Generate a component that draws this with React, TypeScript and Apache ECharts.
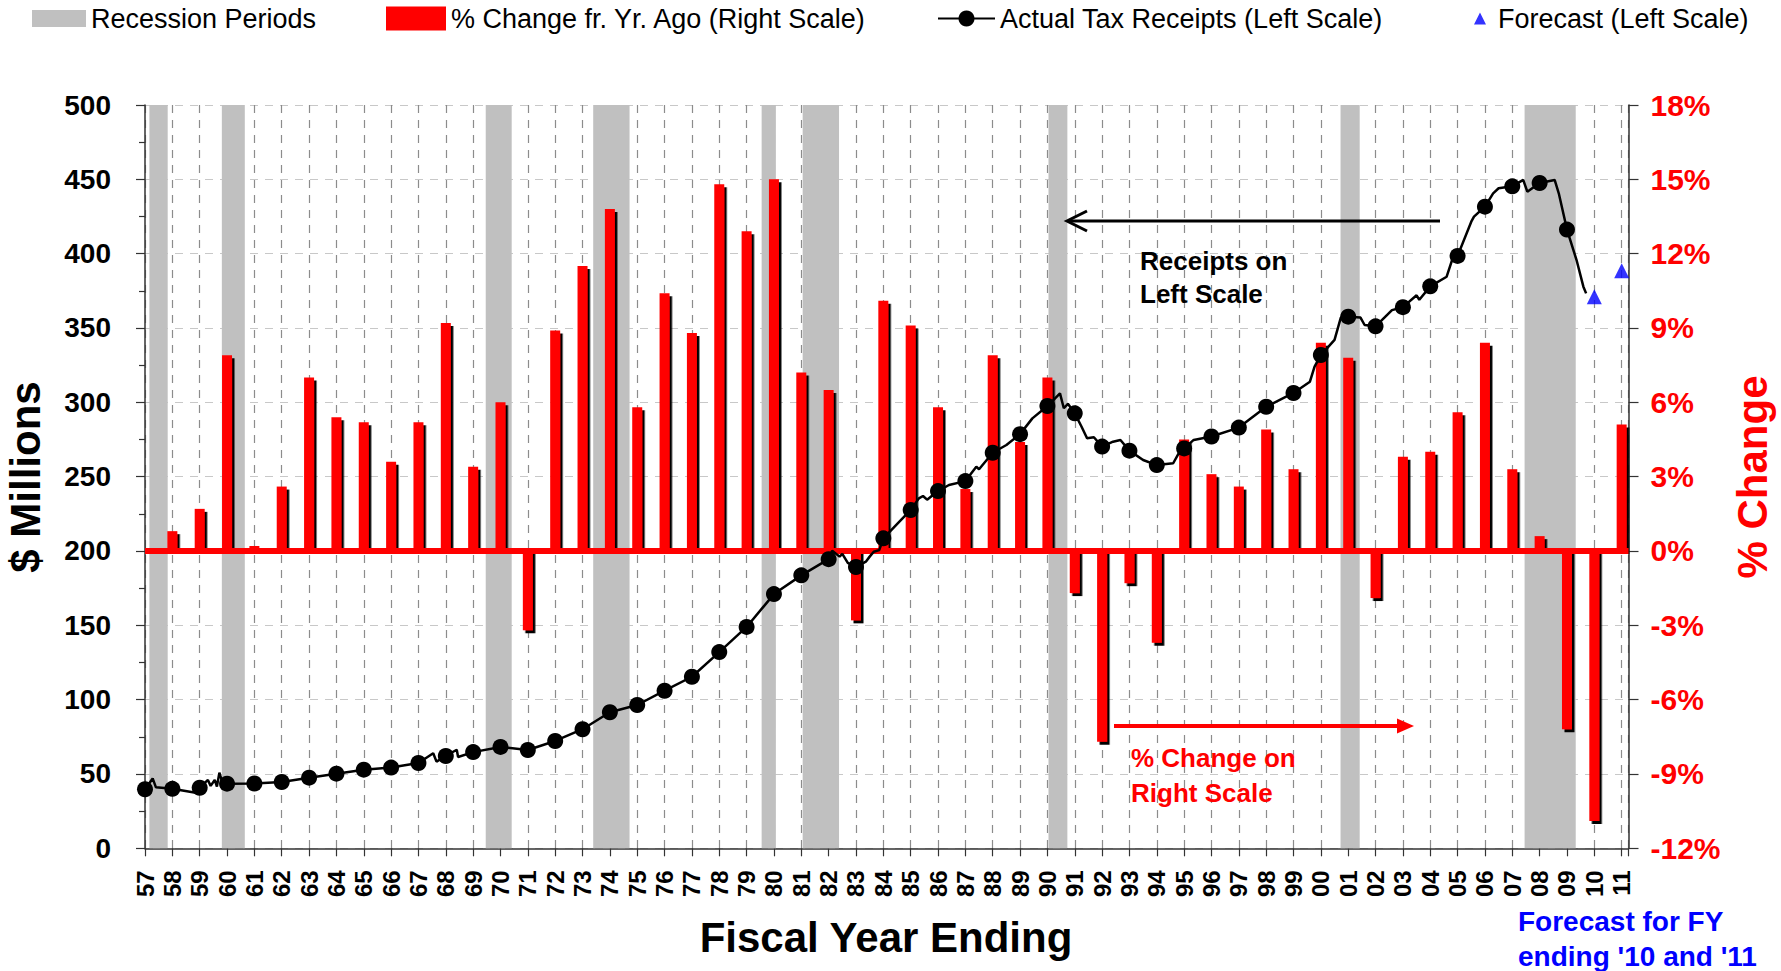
import React, { useEffect, useRef } from "react";
import * as echarts from "echarts";

// Fiscal years (x positions)
const years = [
  1957, 1958, 1959, 1960, 1961, 1962, 1963, 1964, 1965, 1966, 1967, 1968, 1969,
  1970, 1971, 1972, 1973, 1974, 1975, 1976, 1977, 1978, 1979, 1980, 1981, 1982,
  1983, 1984, 1985, 1986, 1987, 1988, 1989, 1990, 1991, 1992, 1993, 1994, 1995,
  1996, 1997, 1998, 1999, 2000, 2001, 2002, 2003, 2004, 2005, 2006, 2007, 2008,
  2009, 2010, 2011,
];

// % change from year ago (right scale), one per year above
const pctChange: (number | null)[] = [
  null, 0.8, 1.7, 7.9, 0.2, 2.6, 7.0, 5.4, 5.2, 3.6, 5.2, 9.2, 3.4,
  6.0, -3.2, 8.9, 11.5, 13.8, 5.8, 10.4, 8.8, 14.8, 12.9, 15.0, 7.2, 6.5,
  -2.8, 10.1, 9.1, 5.8, 2.5, 7.9, 4.4, 7.0, -1.7, -7.7, -1.3, -3.7, 4.5,
  3.1, 2.6, 4.9, 3.3, 8.4, 7.8, -1.9, 3.8, 4.0, 5.6, 8.4, 3.3, 0.6,
  -7.2, -10.9, 5.1,
];

// Actual tax receipts at fiscal year end, 1957..2009 ($ millions)
const receiptsAnnual = [
  39.7, 40, 40.7, 43.5, 43.6, 44.6, 47.5, 50.2, 52.9, 54.3, 57.4, 62.1, 64.7,
  68.2, 66.1, 72.2, 80.1, 91.5, 96.4, 106, 115.4, 132, 148.9, 171, 183.6, 194.5,
  189.2, 208.5, 227.6, 240.3, 247, 266.1, 278.6, 297.5, 292.6, 270.2, 267.5, 257.8, 269,
  277, 283, 297, 306.3, 331.8, 357.6, 351.1, 364, 378, 398.5, 431.6, 445.3, 447.5,
  416.2,
];

// Readings of the receipts line between fiscal year ends [year, $ millions]
const receiptsBetween: [number, number][] = [
  [1957.28, 47], [1957.4, 41], [1958.8, 37.5], [1959.3, 46], [1959.4, 42],
  [1959.55, 46], [1959.63, 41.5], [1959.72, 50.9], [1959.8, 46],
  [1967.54, 63.9], [1967.66, 58.3], [1968.4, 66.3], [1968.45, 61.4],
  [1982.13, 200.2], [1982.4, 196.2], [1982.5, 198], [1982.7, 192],
  [1983.36, 192.8], [1983.5, 196.2], [1983.65, 199.5], [1983.85, 200.6],
  [1985.3, 235.4], [1985.45, 237], [1985.6, 234.5], [1986.4, 244.4],
  [1987.4, 256.7], [1987.5, 255], [1988.5, 271.3], [1989.45, 289.2],
  [1990.46, 306], [1990.6, 296], [1990.75, 299],
  [1991.25, 283.6], [1991.45, 275.8], [1991.7, 276.5],
  [1992.4, 273.5], [1992.67, 274.7], [1993.5, 261.2],
  [1994.6, 259], [1994.8, 265.7], [1995.35, 274.7],
  [1999.6, 313.9], [1999.77, 324], [2000.5, 342], [2000.73, 357],
  [2001.45, 357], [2001.6, 352], [2002.6, 362], [2003.5, 372], [2003.6, 369],
  [2004.6, 384.5], [2004.84, 398], [2005.5, 421.5], [2005.6, 424.9],
  [2006.3, 440.6], [2006.5, 444], [2007.4, 449.6], [2007.55, 441.7],
  [2008.55, 449.6], [2008.7, 440.6],
  [2009.35, 395.7], [2009.6, 377.8], [2009.7, 373.3],
];

// Forecast receipts for FY ending 2010 and 2011
const forecastYears = [2010, 2011];
const forecastValues = [371, 388.5];

// Recession periods [start, end] in fractional fiscal years
const recessions: [number, number][] = [
  [1957.16, 1957.83], [1959.81, 1960.65], [1969.46, 1970.41], [1973.39, 1974.72],
  [1979.55, 1980.07], [1981.05, 1982.38], [1990.04, 1990.73], [2000.72, 2001.42],
  [2007.45, 2009.32],
];

const leftTicks = { min: 0, max: 500, interval: 50 };
const rightTicks = { min: -12, max: 18, interval: 3 };

const FONT = "'Liberation Sans', Arial, Helvetica, sans-serif";

export default function App() {
  const ref = useRef<HTMLDivElement>(null);

  useEffect(() => {
    if (!ref.current) return;
    const chart = echarts.init(ref.current, undefined, { renderer: "svg" });

    const barData = years
      .map((y, i) => [y, pctChange[i]] as [number, number | null])
      .filter((d) => d[1] !== null);

    const lineData: any[] = [];
    receiptsAnnual.forEach((v, i) => lineData.push({ value: [years[i], v] }));
    receiptsBetween.forEach((p) => lineData.push({ value: p, symbol: "none" }));
    lineData.sort((a, b) => a.value[0] - b.value[0]);

    const forecastData = forecastYears.map((y, i) => [y, forecastValues[i]]);

    const legendText = { fontSize: 27, color: "#000", fontFamily: FONT };
    const legendBase = { padding: 0, selectedMode: false, textStyle: legendText };

    const option: any = {
      animation: false,
      backgroundColor: "#fff",
      textStyle: { fontFamily: FONT },
      grid: { left: 145, right: 152.5, top: 105, bottom: 122.7, containLabel: false },
      legend: [
        {
          ...legendBase,
          data: ["Recession Periods"], left: 32, top: 5, icon: "rect",
          itemWidth: 54, itemHeight: 17,
        },
        {
          ...legendBase,
          data: ["% Change fr. Yr. Ago (Right Scale)"], left: 386, top: 5, icon: "rect",
          itemWidth: 60, itemHeight: 24,
          itemStyle: { shadowColor: "rgba(0,0,0,0)", shadowBlur: 0, shadowOffsetX: 0, shadowOffsetY: 0 },
        },
        {
          ...legendBase,
          data: ["Actual Tax Receipts (Left Scale)"], left: 937, top: 5,
          itemWidth: 57, itemHeight: 20,
        },
        {
          ...legendBase,
          data: ["Forecast (Left Scale)"], left: 1458, top: 5,
          icon: "path://M0,6L0.01,6M35,6L35.01,6M16,12L22,0L28,12Z",
          itemWidth: 35, itemHeight: 12,
        },
      ],
      xAxis: {
        type: "value",
        min: 1957,
        max: 2011.25,
        interval: 1,
        axisLine: { show: true, onZero: false, lineStyle: { color: "#333", width: 1.5 } },
        axisTick: { show: true, length: 8, lineStyle: { color: "#333", width: 1.2 } },
        axisLabel: {
          rotate: 90,
          margin: 22,
          fontSize: 24,
          fontWeight: "bold",
          color: "#000",
          fontFamily: FONT,
          showMinLabel: true,
          showMaxLabel: true,
          formatter: (v: number) =>
            Math.abs(v - Math.round(v)) < 1e-6 ? String(Math.round(v)).slice(2) : "",
        },
        splitLine: { show: true, lineStyle: { color: "#8c8c8c", width: 1.2, type: [8, 7] } },
      },
      yAxis: [
        {
          type: "value",
          ...leftTicks,
          position: "left",
          axisLine: { show: true, lineStyle: { color: "#333", width: 1.5 } },
          axisTick: { show: true, length: 9, lineStyle: { color: "#333", width: 1.2 } },
          minorTick: { show: true, splitNumber: 2, length: 6, lineStyle: { color: "#333", width: 1.2 } },
          axisLabel: {
            margin: 34, fontSize: 28, fontWeight: "bold", color: "#000", fontFamily: FONT,
          },
          splitLine: { show: true, lineStyle: { color: "#c8c8c8", width: 1.2, type: [8, 7] } },
        },
        {
          type: "value",
          ...rightTicks,
          position: "right",
          axisLine: { show: true, lineStyle: { color: "#333", width: 1.5 } },
          axisTick: { show: true, length: 10, lineStyle: { color: "#333", width: 1.2 } },
          axisLabel: {
            margin: 22, fontSize: 30, fontWeight: "bold", color: "#ff0000", fontFamily: FONT,
            formatter: "{value}%",
          },
          splitLine: { show: false },
        },
      ],
      series: [
        {
          name: "Recession Periods",
          type: "line",
          data: [],
          color: "#c0c0c0",
          xAxisIndex: 0,
          yAxisIndex: 0,
          markArea: {
            silent: true,
            itemStyle: { color: "#c0c0c0" },
            data: recessions.map(([a, b]) => [{ xAxis: a }, { xAxis: b }]),
          },
        },
        {
          name: "% Change fr. Yr. Ago (Right Scale)",
          type: "bar",
          yAxisIndex: 1,
          data: barData,
          barWidth: 10,
          color: "#ff0000",
          itemStyle: {
            color: "#ff0000",
            shadowColor: "#000",
            shadowBlur: 0,
            shadowOffsetX: 2.5,
            shadowOffsetY: 3,
          },
          markLine: {
            silent: true,
            symbol: "none",
            label: { show: false },
            lineStyle: { color: "#ff0000", width: 6, type: "solid" },
            data: [{ yAxis: 0 }],
          },
        },
        {
          name: "Actual Tax Receipts (Left Scale)",
          type: "line",
          yAxisIndex: 0,
          data: lineData,
          symbol: "circle",
          symbolSize: 16,
          color: "#000",
          itemStyle: { color: "#000" },
          lineStyle: { color: "#000", width: 2.5 },
          z: 5,
        },
        {
          name: "Forecast (Left Scale)",
          type: "scatter",
          yAxisIndex: 0,
          data: forecastData,
          symbol: "triangle",
          symbolSize: 15,
          color: "#0000ff",
          itemStyle: { color: "#0000ff" },
          z: 5,
        },
      ],
      graphic: [
        {
          type: "text", x: 25, y: 477, rotation: Math.PI / 2, z: 100,
          style: {
            text: "$ Millions", font: `bold 42px ${FONT}`, fill: "#000",
            textAlign: "center", textVerticalAlign: "middle",
          },
        },
        {
          type: "text", x: 1752, y: 477, rotation: Math.PI / 2, z: 100,
          style: {
            text: "% Change", font: `bold 42px ${FONT}`, fill: "#ff0000",
            textAlign: "center", textVerticalAlign: "middle",
          },
        },
        {
          type: "text", x: 886, y: 937, z: 100,
          style: {
            text: "Fiscal Year Ending", font: `bold 42px ${FONT}`, fill: "#000",
            textAlign: "center", textVerticalAlign: "middle",
          },
        },
        {
          type: "line", z: 100,
          shape: { x1: 1440, y1: 221, x2: 1068, y2: 221 },
          style: { stroke: "#000", lineWidth: 3 },
        },
        {
          type: "polyline", z: 100,
          shape: { points: [[1087, 211], [1067, 221], [1087, 231]] },
          style: { stroke: "#000", lineWidth: 3, fill: null },
        },
        {
          type: "text", x: 1140, y: 244.5, z: 100,
          style: {
            text: "Receipts on\nLeft Scale", font: `bold 26px ${FONT}`, fill: "#000",
            lineHeight: 33, textAlign: "left", textVerticalAlign: "top",
          },
        },
        {
          type: "line", z: 100,
          shape: { x1: 1114, y1: 726, x2: 1400, y2: 726 },
          style: { stroke: "#ff0000", lineWidth: 4 },
        },
        {
          type: "polygon", z: 100,
          shape: { points: [[1397, 718.5], [1414, 726], [1397, 733.5]] },
          style: { fill: "#ff0000" },
        },
        {
          type: "text", x: 1131, y: 740.5, z: 100,
          style: {
            text: "% Change on\nRight Scale", font: `bold 26px ${FONT}`, fill: "#ff0000",
            lineHeight: 35, textAlign: "left", textVerticalAlign: "top",
          },
        },
        {
          type: "text", x: 1518, y: 904, z: 100,
          style: {
            text: "Forecast for FY\nending '10 and '11", font: `bold 28px ${FONT}`, fill: "#0000ff",
            lineHeight: 35, textAlign: "left", textVerticalAlign: "top",
          },
        },
      ],
    };

    chart.setOption(option);
    return () => chart.dispose();
  }, []);

  return (
    <div
      ref={ref}
      style={{ position: "absolute", left: 0, top: 0, width: 1781, height: 971, background: "#fff" }}
    />
  );
}
